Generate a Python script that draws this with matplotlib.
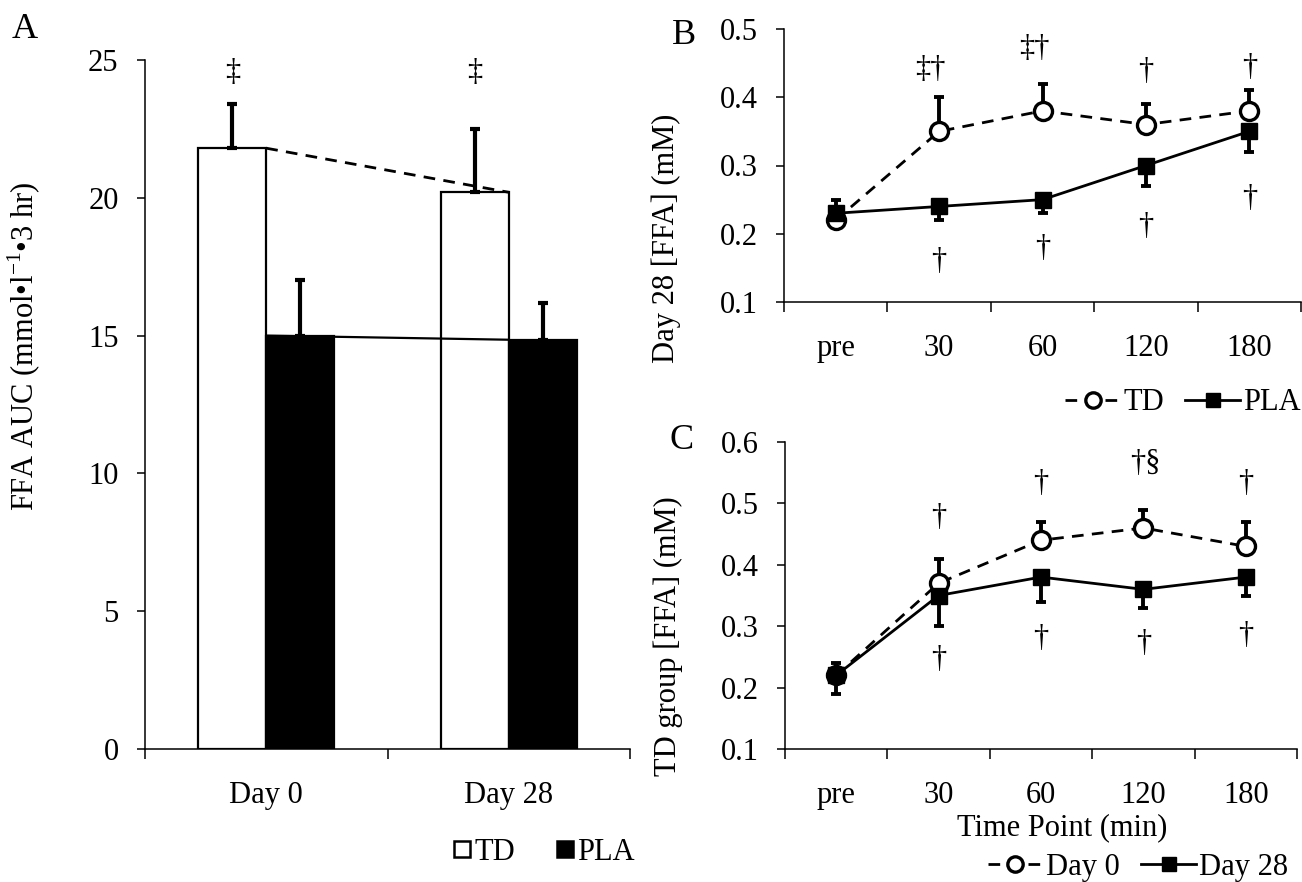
import matplotlib
matplotlib.use('Agg')
import matplotlib.pyplot as plt
from matplotlib.lines import Line2D
import numpy as np

plt.rcParams['font.family'] = ['Liberation Serif', 'DejaVu Serif']
plt.rcParams['mathtext.fontset'] = 'custom'
plt.rcParams['mathtext.rm'] = 'Liberation Serif'
FS = 22
plt.rcParams['font.size'] = FS

# ---------------- data ----------------
# Panel A
days = ['Day 0', 'Day 28']
auc_td = [21.8, 20.2]
auc_td_err = [1.6, 2.3]
auc_pla = [15.0, 14.85]
auc_pla_err = [2.0, 1.35]
auc_marks = ['‡', '‡']
auc_mark_y = [24.55, 24.55]

# Panel B (Day 28, TD vs PLA)
time_points = ['pre', '30', '60', '120', '180']
b_td = [0.22, 0.35, 0.38, 0.36, 0.38]
b_td_err = [0.03, 0.05, 0.04, 0.03, 0.03]
b_pla = [0.23, 0.24, 0.25, 0.30, 0.35]
b_pla_err = [0.0, 0.02, 0.02, 0.03, 0.03]
b_marks_top = ['', '‡†', '‡†', '†', '†']
b_marks_bottom = ['', '†', '†', '†', '†']
b_top_y = [0, 0.44, 0.471, 0.438, 0.444]
b_top_dx = [0, -0.08, -0.08, 0, 0]
b_bot_y = [0, 0.159, 0.179, 0.21, 0.252]

# Panel C (TD group, Day 0 vs Day 28)
c_day0 = [0.22, 0.37, 0.44, 0.46, 0.43]
c_day0_err = [0.02, 0.04, 0.03, 0.03, 0.04]
c_day28 = [0.22, 0.35, 0.38, 0.36, 0.38]
c_day28_err = [0.03, 0.05, 0.04, 0.03, 0.03]
c_marks_top = ['', '†', '†', '†§', '†']
c_marks_bottom = ['', '†', '†', '†', '†']
c_top_y = [0, 0.477, 0.532, 0.565, 0.532]
c_top_dx = [0, 0, 0, 0.02, 0]
c_bot_y = [0, 0.245, 0.28, 0.272, 0.285]

# ---------------- figure ----------------
W, H = 1302, 882
fig = plt.figure(figsize=(W / 100, H / 100), dpi=100)


def px_axes(l, r, t, b):
    return fig.add_axes([l / W, 1 - b / H, (r - l) / W, (b - t) / H])


def style_axes(ax):
    for s in ['top', 'right']:
        ax.spines[s].set_visible(False)
    for s in ['left', 'bottom']:
        ax.spines[s].set_linewidth(1.1)
    ax.tick_params(axis='y', direction='out', length=6, width=1.1, pad=13)
    ax.tick_params(axis='x', which='major', direction='out', length=7, width=1.1, labelbottom=False)
    ax.tick_params(axis='x', which='minor', length=0, pad=23)


dash = (0, (4.2, 3.0))

# ---- Panel A ----
axA = px_axes(145, 630, 60, 749)
xa = np.arange(len(days))
bw = 0.28
axA.bar(xa - bw / 2, auc_td, bw, color='white', edgecolor='black', linewidth=1.6, zorder=2)
axA.bar(xa + bw / 2, auc_pla, bw, color='black', edgecolor='black', linewidth=1.6, zorder=2)
axA.errorbar(xa - bw / 2, auc_td, yerr=[np.zeros(2), auc_td_err], fmt='none', ecolor='black',
             elinewidth=3, capsize=3.5, capthick=3, zorder=3)
axA.errorbar(xa + bw / 2, auc_pla, yerr=[np.zeros(2), auc_pla_err], fmt='none', ecolor='black',
             elinewidth=3, capsize=3.5, capthick=3, zorder=1)
axA.plot(xa, auc_td, color='black', ls=dash, lw=2, zorder=4)
axA.plot(xa, auc_pla, color='black', ls='-', lw=1.6, zorder=4)
for i, m in enumerate(auc_marks):
    axA.text(xa[i] - bw / 2, auc_mark_y[i], m, ha='center', va='center', fontsize=FS)
axA.set_xlim(-0.5, 1.5)
axA.set_ylim(0, 25)
axA.set_yticks([0, 5, 10, 15, 20, 25])
axA.set_xticks([-0.5, 0.5, 1.5])
axA.set_xticks(xa, minor=True)
axA.set_xticklabels(days, minor=True)
style_axes(axA)
axA.set_ylabel('FFA AUC (mmol•l$^{\\mathrm{-1}}$•3 hr)', fontsize=FS)
axA.yaxis.set_label_coords(-0.21, 0.585)
axA.legend(handles=[Line2D([], [], ls='none', marker='s', ms=11, mfc='white', mec='black', mew=1.8),
                    Line2D([], [], ls='none', marker='s', ms=11, mfc='black', mec='black', mew=1.8)],
           labels=['TD', 'PLA'], ncol=2, frameon=False, loc='center',
           bbox_to_anchor=(544 / W, 1 - 852 / H), bbox_transform=fig.transFigure,
           handlelength=0.6, handletextpad=0.12, columnspacing=1.3, fontsize=FS,
           borderpad=0, borderaxespad=0)
fig.text(25 / W, 1 - 30 / H, 'A', fontsize=26, ha='center', va='center')

xt = np.arange(len(time_points))


def line_panel(ax, y1, e1, y2, e2, lab1, lab2, ylim, yticks):
    ax.errorbar(xt, y1, yerr=[np.zeros(len(xt)), e1], fmt='none', ecolor='black',
                elinewidth=2.8, capsize=3.6, capthick=2.8, zorder=2)
    ax.errorbar(xt, y2, yerr=[e2, np.zeros(len(xt))], fmt='none', ecolor='black',
                elinewidth=2.8, capsize=3.6, capthick=2.8, zorder=2)
    ax.plot(xt, y1, color='black', ls=dash, lw=2, marker='o', ms=13, mfc='white',
            mec='black', mew=2.4, zorder=3, label=lab1)
    ax.plot(xt, y2, color='black', ls='-', lw=2, marker='s', ms=12, mfc='black',
            mec='black', zorder=4, label=lab2)
    ax.set_xlim(-0.5, 4.5)
    ax.set_ylim(*ylim)
    ax.set_yticks(yticks)
    ax.set_yticklabels([f'{v:.1f}' for v in yticks])
    ax.set_xticks(np.arange(-0.5, 5, 1))
    ax.set_xticks(xt, minor=True)
    ax.set_xticklabels(time_points, minor=True)
    style_axes(ax)


def line_legend(ax, x, y):
    ax.legend(ncol=2, frameon=False, loc='center', bbox_to_anchor=(x / W, 1 - y / H),
              bbox_transform=fig.transFigure, handlelength=1.8, handletextpad=0.1,
              columnspacing=0.7, fontsize=FS, markerscale=0.85, borderpad=0, borderaxespad=0)


# ---- Panel B ----
axB = px_axes(784, 1301, 29, 302)
line_panel(axB, b_td, b_td_err, b_pla, b_pla_err, 'TD', 'PLA', (0.1, 0.5), [0.1, 0.2, 0.3, 0.4, 0.5])
for i in range(len(xt)):
    if b_marks_top[i]:
        axB.text(xt[i] + b_top_dx[i], b_top_y[i], b_marks_top[i], ha='center', va='center', fontsize=FS)
    if b_marks_bottom[i]:
        axB.text(xt[i], b_bot_y[i], b_marks_bottom[i], ha='center', va='center', fontsize=FS)
axB.set_ylabel('Day 28 [FFA] (mM)', fontsize=FS)
axB.yaxis.set_label_coords(-0.199, 0.233)
line_legend(axB, 1183, 403)
fig.text(684 / W, 1 - 35 / H, 'B', fontsize=26, ha='center', va='center')

# ---- Panel C ----
axC = px_axes(785, 1297, 442, 749)
line_panel(axC, c_day0, c_day0_err, c_day28, c_day28_err, 'Day 0', 'Day 28', (0.1, 0.6),
           [0.1, 0.2, 0.3, 0.4, 0.5, 0.6])
for i in range(len(xt)):
    if c_marks_top[i]:
        axC.text(xt[i] + c_top_dx[i], c_top_y[i], c_marks_top[i], ha='center', va='center', fontsize=FS)
    if c_marks_bottom[i]:
        axC.text(xt[i], c_bot_y[i], c_marks_bottom[i], ha='center', va='center', fontsize=FS)
axC.set_ylabel('TD group [FFA] (mM)', fontsize=FS)
axC.yaxis.set_label_coords(-0.199, 0.368)
axC.set_xlabel('Time Point (min)', fontsize=FS)
axC.xaxis.set_label_coords(0.541, -0.257)
axC.xaxis.label.set_va('center')
line_legend(axC, 1138, 867)
fig.text(682 / W, 1 - 440 / H, 'C', fontsize=26, ha='center', va='center')

fig.savefig('out.png', dpi=100)
